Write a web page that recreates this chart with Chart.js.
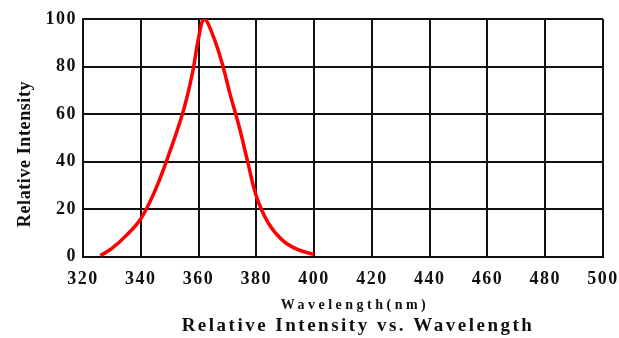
<!DOCTYPE html>
<html>
<head>
<meta charset="utf-8">
<script src="https://cdn.jsdelivr.net/npm/chart.js@4"></script>
<style>
html,body{margin:0;padding:0;background:#fff;}
#wrap{position:relative;width:619px;height:338px;}
</style>
</head>
<body>
<div id="wrap"><canvas id="c" width="619" height="338"></canvas></div>
<script>
const wavelength = [326, 330, 335, 340, 345, 350, 355, 358, 360, 362, 365, 368, 371, 374, 377, 380, 384, 389, 394, 400];
const intensity  = [0.5, 3.5, 9, 16, 28, 44, 62.5, 78, 92, 100, 93, 82, 68, 55, 40, 25.5, 14.5, 7, 3.2, 1];
const xTicks = [320, 340, 360, 380, 400, 420, 440, 460, 480, 500];
const yTicks = [0, 20, 40, 60, 80, 100];
const xTitle = 'Wavelength(nm)';
const yTitle = 'Relative Intensity';
const chartTitle = 'Relative Intensity vs. Wavelength';

const FONT = '"Liberation Serif", "Times New Roman", serif';

const spacingPlugin = {
  id: 'spacing',
  beforeDraw(chart) {
    chart.ctx.letterSpacing = '1.5px';
  },
  afterLayout(chart) {
    const xs = chart.scales.x, ys = chart.scales.y, tb = chart.titleBlock;
    if (!xs._wrapped) {
      const o = xs.drawTitle;
      xs.drawTitle = function () {
        const ctx = this.ctx; ctx.save();
        ctx.letterSpacing = '3.5px';
        ctx.translate(355 - (this.left + this.right) / 2, 0);
        o.apply(this, arguments); ctx.restore();
      };
      xs._wrapped = true;
    }
    if (!ys._wrapped) {
      const o = ys.drawTitle;
      ys.drawTitle = function () {
        const ctx = this.ctx; ctx.save();
        ctx.letterSpacing = '0.6px';
        ctx.translate(0, 154 - (this.top + this.bottom) / 2);
        o.apply(this, arguments); ctx.restore();
      };
      ys._wrapped = true;
    }
    if (tb && !tb._wrapped) {
      const o = tb.draw;
      tb.draw = function () {
        const ctx = this.ctx; ctx.save();
        ctx.letterSpacing = '2.5px';
        ctx.translate(358 - (this.left + this.right) / 2, 0);
        o.apply(this, arguments); ctx.restore();
      };
      tb._wrapped = true;
    }
  }
};

new Chart(document.getElementById('c'), {
  type: 'line',
  data: {
    datasets: [{
      data: wavelength.map((w, i) => ({x: w, y: intensity[i]})),
      borderColor: '#ff0000',
      borderWidth: 3.5,
      pointRadius: 0,
      fill: false,
      tension: 0.4
    }]
  },
  options: {
    responsive: false,
    animation: false,
    devicePixelRatio: 1,
    layout: {padding: {top: 19, left: 0, right: 16, bottom: 0}},
    plugins: {
      legend: {display: false},
      tooltip: {enabled: false},
      title: {
        display: true,
        position: 'bottom',
        text: chartTitle,
        color: '#111',
        font: {family: FONT, size: 19, weight: 'bold', lineHeight: 1.2},
        padding: {top: 0, bottom: 1}
      }
    },
    scales: {
      x: {
        type: 'linear',
        min: 320, max: 500,
        afterBuildTicks(s) { s.ticks = xTicks.map(v => ({value: v})); },
        afterFit(s) { s.height = 57.4; s.paddingLeft = 0; s.paddingRight = 0; },
        ticks: {
          color: '#111',
          padding: 12,
          maxRotation: 0,
          font: {family: FONT, size: 18, weight: 'bold'}
        },
        grid: {color: '#111', lineWidth: 2, drawTicks: false},
        border: {color: '#111', width: 2},
        title: {
          display: true,
          text: xTitle,
          color: '#111',
          font: {family: FONT, size: 14, weight: 'bold', lineHeight: 1.2},
          padding: {top: 0, bottom: 0}
        }
      },
      y: {
        min: 0, max: 100,
        afterBuildTicks(s) { s.ticks = yTicks.map(v => ({value: v})); },
        afterFit(s) { s.width = 83; s.paddingTop = 0; s.paddingBottom = 0; },
        ticks: {
          color: '#111',
          padding: 6,
          font: {family: FONT, size: 18, weight: 'bold'}
        },
        grid: {color: '#111', lineWidth: 2, drawTicks: false},
        border: {color: '#111', width: 2},
        title: {
          display: true,
          text: yTitle,
          color: '#111',
          font: {family: FONT, size: 18, weight: 'bold', lineHeight: 1.2},
          padding: {top: 15, bottom: 0}
        }
      }
    }
  },
  plugins: [spacingPlugin]
});
</script>
</body>
</html>
